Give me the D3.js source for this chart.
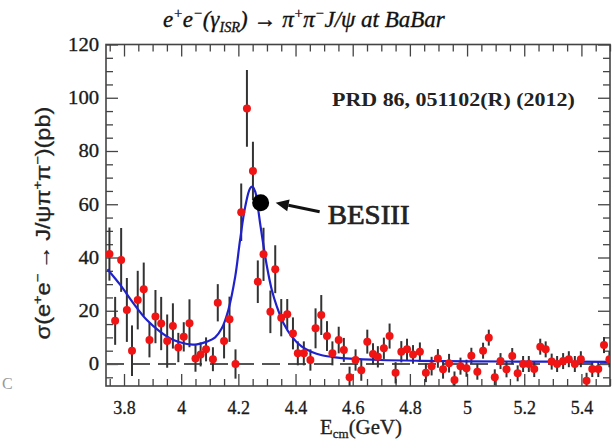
<!DOCTYPE html>
<html><head><meta charset="utf-8">
<script src="https://cdn.jsdelivr.net/npm/d3@7"></script>
<style>body{margin:0;background:#fff}svg{display:block}</style>
</head><body>
<script>
// ---- data ----
const energy = [3.749,3.769,3.790,3.810,3.828,3.848,3.869,3.889,3.910,3.930,3.951,3.971,3.990,4.009,4.029,4.050,4.068,4.087,4.111,4.128,4.150,4.169,4.190,4.210,4.230,4.251,4.268,4.288,4.312,4.329,4.350,4.371,4.391,4.408,4.429,4.452,4.470,4.490,4.510,4.529,4.551,4.569,4.589,4.610,4.630,4.651,4.671,4.688,4.709,4.729,4.750,4.770,4.790,4.811,4.835,4.856,4.876,4.898,4.916,4.937,4.956,4.977,4.998,5.015,5.036,5.056,5.076,5.097,5.117,5.138,5.158,5.177,5.196,5.216,5.235,5.256,5.275,5.296,5.315,5.336,5.356,5.377,5.398,5.418,5.438,5.459,5.479,5.498];
const xsec = [41.3,16.2,39.1,20.3,5.0,24.0,28.1,9.0,17.8,15.2,8.6,14.3,6.2,10.2,15.3,2.1,3.6,5.5,1.8,23.0,8.6,16.8,0.0,57.0,96.0,72.5,30.9,41.2,19.6,35.6,17.4,18.7,11.5,4.0,4.0,1.5,13.4,18.4,10.5,4.0,9.0,5.3,-5.0,1.5,-2.3,8.4,3.8,2.7,5.9,10.5,-3.3,4.6,5.5,3.6,4.6,-3.3,-0.8,2.1,-2.0,0.3,-6.0,-0.8,-1.6,3.1,-2.9,5.0,9.9,-5.0,1.1,-2.0,3.0,-3.5,0.0,0.0,-1.9,6.5,5.5,0.9,0.0,1.1,1.8,0.0,1.8,-6.3,-1.9,-1.9,7.1,1.8];
const xsecErr = [10,9,12,12,9.5,11,10,6.5,10,10,10,8.5,5.5,5.5,9,5,4.5,4.5,4.5,7,6.5,8.5,5.5,10.8,14.4,11,8,10,8,9,7,5.7,6,4.5,4.5,4,7.5,7.5,5.6,4.5,5,4.5,4,4,4,4.5,4,4,4,4.7,4,4,4,3.5,3.5,3.5,3.5,3.5,3.5,3.5,3.2,3.2,3.2,3,3,3,3,3,3,3,3,3,3,3,3,3,3,3,3,3,3,3,3,3,3,3,3,3];
const fitEnergy = [3.742,3.787,3.833,3.880,3.927,3.973,4.020,4.055,4.090,4.119,4.142,4.165,4.189,4.206,4.224,4.241,4.249,4.259,4.268,4.276,4.288,4.300,4.317,4.335,4.358,4.387,4.422,4.457,4.492,4.539,4.591,4.696,4.836,5.011,5.256,5.5];
const fitXsec = [35.6,29.7,22.8,16.5,12.1,9.0,7.5,7.4,8.4,10.0,13.4,20.3,32.8,46.6,59.1,66.0,66.6,64.7,59.1,52.9,44.4,36.6,27.8,21.5,15.3,10.3,6.5,4.5,3.3,2.5,2.0,1.5,1.2,1.0,0.9,0.8];
const besEnergy = [4.278];
const besXsec = [60.6];
const xTickValues = [3.8,4.0,4.2,4.4,4.6,4.8,5.0,5.2,5.4];
const xTickLabels = ["3.8","4","4.2","4.4","4.6","4.8","5","5.2","5.4"];
const yTickValues = [0,20,40,60,80,100,120];
const yTickLabels = ["0","20","40","60","80","100","120"];

// ---- layout ----
const W = 615, H = 441;
const L = 106, R = 610, T = 44.5, B = 386;
const SERIF = "'Liberation Serif','Times New Roman',serif";
const SANS = "'Liberation Sans',Arial,sans-serif";

const svg = d3.select("body").append("svg").attr("width", W).attr("height", H);
const x = d3.scaleLinear().domain([3.737, 5.5]).range([L, R]);
const y = d3.scaleLinear().domain([-8.26, 120]).range([B, T]);

svg.append("defs").append("clipPath").attr("id","plot")
  .append("rect").attr("x",L).attr("y",T).attr("width",R-L).attr("height",B-T);

// minor ticks
const xMinor = d3.range(3.75, 5.5001, 0.05).map(v => +v.toFixed(2)).filter(v => !xTickValues.some(t => Math.abs(t-v) < 1e-6));
const yMinor = d3.range(-5, 120.001, 5).filter(v => v % 20 !== 0);

function styleAxis(g){ g.select(".domain").remove(); g.selectAll("line").attr("stroke","#444").attr("stroke-width",1.3); }

svg.append("g").attr("transform",`translate(0,${B})`)
  .call(d3.axisBottom(x).tickValues(xMinor).tickFormat("").tickSizeInner(-7).tickSizeOuter(0)).call(styleAxis);
svg.append("g").attr("transform",`translate(0,${T})`)
  .call(d3.axisTop(x).tickValues(xMinor).tickFormat("").tickSizeInner(-7).tickSizeOuter(0)).call(styleAxis);
svg.append("g").attr("transform",`translate(0,${T})`)
  .call(d3.axisTop(x).tickValues(xTickValues).tickFormat("").tickSizeInner(-12).tickSizeOuter(0)).call(styleAxis);
svg.append("g").attr("transform",`translate(${L},0)`)
  .call(d3.axisLeft(y).tickValues(yMinor).tickFormat("").tickSizeInner(-7).tickSizeOuter(0)).call(styleAxis);
svg.append("g").attr("transform",`translate(${R},0)`)
  .call(d3.axisRight(y).tickValues(yMinor).tickFormat("").tickSizeInner(-7).tickSizeOuter(0)).call(styleAxis);
svg.append("g").attr("transform",`translate(${R},0)`)
  .call(d3.axisRight(y).tickValues(yTickValues).tickFormat("").tickSizeInner(-12).tickSizeOuter(0)).call(styleAxis);

const xAxis = svg.append("g").attr("transform",`translate(0,${B})`)
  .call(d3.axisBottom(x).tickValues(xTickValues).tickFormat((d,i)=>xTickLabels[i]).tickSizeInner(-12).tickSizeOuter(0).tickPadding(15))
  .call(styleAxis);
xAxis.selectAll("text").attr("font-family",SERIF).attr("font-size",18).attr("fill","#1a1a1a")
  .attr("stroke","#1a1a1a").attr("stroke-width",0.3);

const yAxis = svg.append("g").attr("transform",`translate(${L},0)`)
  .call(d3.axisLeft(y).tickValues(yTickValues).tickFormat((d,i)=>yTickLabels[i]).tickSizeInner(-12).tickSizeOuter(0).tickPadding(6))
  .call(styleAxis);
yAxis.selectAll("text").attr("font-family",SERIF).attr("font-size",18).attr("fill","#1a1a1a")
  .attr("stroke","#1a1a1a").attr("stroke-width",0.3)
  .attr("transform","scale(1.15,1)");

// frame
svg.append("rect").attr("x",L).attr("y",T).attr("width",R-L).attr("height",B-T)
  .attr("fill","none").attr("stroke","#444").attr("stroke-width",1.6);

const plot = svg.append("g").attr("clip-path","url(#plot)");

// zero dashed line
plot.append("line").attr("x1",L).attr("x2",R).attr("y1",y(0)).attr("y2",y(0))
  .attr("stroke","#555").attr("stroke-width",1.8).attr("stroke-dasharray","18,8");

// error bars
const pts = energy.map((e,i)=>({e, v:xsec[i], s:xsecErr[i]}));
plot.append("g").selectAll("line").data(pts).join("line")
  .attr("x1",d=>x(d.e)).attr("x2",d=>x(d.e))
  .attr("y1",d=>y(d.v-d.s)).attr("y2",d=>y(d.v+d.s))
  .attr("stroke","#333").attr("stroke-width",2);

// fit curve
const fit = fitEnergy.map((e,i)=>[e, fitXsec[i]]);
plot.append("path").datum(fit)
  .attr("d", d3.line().x(d=>x(d[0])).y(d=>y(d[1])).curve(d3.curveCatmullRom.alpha(0.5)))
  .attr("fill","none").attr("stroke","#1f22cc").attr("stroke-width",2.2);

// data points
plot.append("g").selectAll("circle").data(pts).join("circle")
  .attr("cx",d=>x(d.e)).attr("cy",d=>y(d.v)).attr("r",4)
  .attr("fill","#f01414");

// BESIII point
svg.append("g").selectAll("circle").data(besEnergy).join("circle")
  .attr("cx",d=>x(d)).attr("cy",(d,i)=>y(besXsec[i])).attr("r",8.5).attr("fill","#000");

// arrow
const bx = x(besEnergy[0]), by = y(besXsec[0]);
const tip = [bx+15, by], tail = [bx+59, by+9];
const dx = tip[0]-tail[0], dy = tip[1]-tail[1], len = Math.hypot(dx,dy);
const ux = dx/len, uy = dy/len, hl = 13, hw = 6;
const base = [tip[0]-ux*hl, tip[1]-uy*hl];
svg.append("line").attr("x1",tail[0]).attr("y1",tail[1]).attr("x2",base[0]).attr("y2",base[1])
  .attr("stroke","#111").attr("stroke-width",3);
svg.append("path").attr("d",`M${tip[0]},${tip[1]}L${base[0]-uy*hw},${base[1]+ux*hw}L${base[0]+uy*hw},${base[1]-ux*hw}Z`)
  .attr("fill","#111");

// text helpers
function fitText(t, tx, ty, targetW, rot){
  const w = t.node().getComputedTextLength();
  const s = targetW / w;
  t.attr("transform", `translate(${tx},${ty})${rot?` rotate(${rot})`:""} scale(${s},1)`);
}
function addRich(parts, opts){
  const t = svg.append("text").attr("x",0).attr("y",0)
    .attr("font-family",opts.family).attr("font-size",opts.size)
    .attr("font-style",opts.style||"normal").attr("font-weight",opts.weight||"normal")
    .attr("text-anchor",opts.anchor||"start").attr("fill",opts.fill||"#111");
  if (opts.stroke) t.attr("stroke",opts.fill||"#111").attr("stroke-width",opts.stroke);
  let shift = 0;
  parts.forEach(p=>{
    const sp = t.append("tspan").text(p.t);
    let target = 0, fs = opts.size;
    if (p.sup){ target = -opts.size*0.38; fs = opts.size*0.62; }
    if (p.sub){ target = opts.size*0.2; fs = opts.size*0.62; }
    sp.attr("font-size",fs).attr("dy", target-shift);
    shift = target;
  });
  return t;
}

// title
const title = addRich([
  {t:"e"},{t:"+",sup:1},{t:"e"},{t:"\u2212",sup:1},{t:"(\u03b3"},{t:"ISR",sub:1},{t:") \u2192 \u03c0"},{t:"+",sup:1},
  {t:"\u03c0"},{t:"\u2212",sup:1},{t:"J/\u03c8 at BaBar"}
], {family:SERIF,size:24,style:"italic",anchor:"start",fill:"#111",stroke:0.35});
fitText(title, 163, 27, 282);

// PRD reference
const prd = addRich([{t:"PRD 86, 051102(R) (2012)"}], {family:SERIF,size:19,weight:"bold",fill:"#222"});
fitText(prd, 332, 106, 243);

// BESIII label
const bes = addRich([{t:"BESIII"}], {family:SERIF,size:27,fill:"#222",stroke:0.7});
fitText(bes, bx+67, by+21, 82);

// x axis title
const xt = addRich([{t:"E"},{t:"cm",sub:1},{t:"(GeV)"}], {family:SERIF,size:20,anchor:"middle",fill:"#222",stroke:0.3});
fitText(xt, 361, 434, 82);

// y axis title
const yt = addRich([
  {t:"\u03c3(e"},{t:"+",sup:1},{t:"e"},{t:"\u2212",sup:1},{t:"\u2009\u2192\u2009J/\u03c8\u03c0"},{t:"+",sup:1},{t:"\u03c0"},{t:"\u2212",sup:1},{t:")(pb)"}
], {family:SANS,size:20,anchor:"middle",fill:"#222",stroke:0.3});
fitText(yt, 50, 223, 233, -90);

// edge artifact
svg.append("text").attr("x",2).attr("y",389).attr("font-family",SERIF).attr("font-size",16)
  .attr("fill","#999").text("C");
</script>
</body></html>
